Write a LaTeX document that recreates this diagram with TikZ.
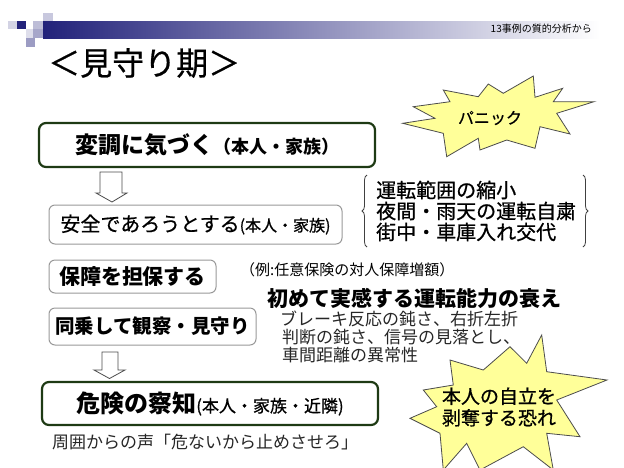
\documentclass[tikz,border=0pt]{standalone}
\usepackage{fontspec}
\setmainfont{Noto Sans CJK JP}
\newfontfamily\medfont{Noto Sans CJK JP}[FakeBold=0.7]
\usetikzlibrary{decorations.pathreplacing}
\definecolor{dgreen}{HTML}{1E3A14}
\definecolor{burstyellow}{HTML}{FFFF99}
\definecolor{navy}{HTML}{22227A}
\newcommand{\fs}[1]{\fontsize{#1}{#1}\selectfont}
\begin{document}
\begin{tikzpicture}[x=1pt,y=-1pt,
  greenbox/.style={draw=dgreen, line width=2.2pt, rounded corners=7pt, fill=white, inner sep=0pt},
  graybox/.style={draw=gray!80, line width=1pt, rounded corners=6pt, fill=white, inner sep=0pt},
  harrow/.style={draw=gray!60!black, fill=white, line width=0.8pt},
  burst/.style={draw=gray!60!black, fill=burstyellow, line width=0.8pt},
  lbl/.style={inner sep=0pt, anchor=west},
  bracestyle/.style={draw=gray!50!black, line width=0.8pt, decorate, decoration={brace, amplitude=5pt}}]
\useasboundingbox (0,0) rectangle (624,467);
% header decoration
\shade[left color=navy, right color=white] (43,21) rectangle (600,38);
\fill[navy!25] (43,13) rectangle (53,21);
\fill[navy!20] (8,21) rectangle (17,29);
\fill[navy] (17,21) rectangle (26,29);
\fill[navy!30] (33,21) rectangle (43,29);
\fill[navy!15] (26,29) rectangle (35,38);
\fill[navy!40] (33,29) rectangle (43,38);
\fill[navy!45] (26,38) rectangle (35,47);
\node[inner sep=0pt, anchor=east] (hdr) at (592,29) {\fs{10}13事例の質的分析から};
\node[lbl] (title) at (48,63) {\medfont\fs{32}＜見守り期＞};
% bursts
\draw[burst] (443.3,90) -- (478.3,96.7) -- (488.3,84) -- (503.3,93.3) -- (533.3,76) -- (535,97.3) -- (562.7,88.3) -- (553.3,101.7) -- (594,101.7) -- (556.7,113.3) -- (570,134) -- (540,126.7) -- (535,148.3) -- (506.7,140) -- (480,150) -- (478.3,138.3) -- (446.7,156.7) -- (443.3,133.3) -- (402.7,123.3) -- (435,118.3) -- (413.3,106.7) -- (450,101.7) -- cycle;
\node[inner sep=0pt] (panic) at (490,118) {\medfont\fs{16}パニック};
\draw[burst] (541.7,335) -- (546.7,371.7) -- (607,380) -- (556.7,400) -- (580,436.7) -- (546.7,433.3) -- (553.3,470) -- (523.3,446.7) -- (480,470) -- (466.7,443.3) -- (443.3,470) -- (440,433.3) -- (410,418.3) -- (436.7,406.7) -- (423.3,390) -- (453.3,385) -- (450,360) -- (483.3,370) -- (510,346.7) -- (526.7,363.3) -- cycle;
\node[inner sep=0pt, align=center] (fear) at (499,407) {\medfont\fs{19}本人の自立を\\[3pt]\medfont\fs{19}剥奪する恐れ};
% boxes
\node[greenbox, minimum width=336pt, minimum height=44pt] (b1) at (207,145) {\bfseries\fs{23}変調に気づく\fs{18}（本人・家族）};
\node[graybox, minimum width=293pt, minimum height=39pt] (b2) at (195.5,224.5) {\medfont\fs{20}安全であろうとする\fs{16}(本人・家族)};
\node[graybox, minimum width=167pt, minimum height=33pt] (b3) at (132.5,276.5) {\bfseries\fs{21}保障を担保する};
\node[graybox, minimum width=207pt, minimum height=37pt] (b4) at (152.5,326.5) {\bfseries\fs{19.5}同乗して観察・見守り};
\node[greenbox, minimum width=336pt, minimum height=43pt] (b5) at (210,403.5) {{\bfseries\fs{24}危険の察知}{\medfont\fs{17}(本人・家族・近隣)}};
% hollow arrows
\draw[harrow] (100,172) -- (122,172) -- (122,193) -- (127,193) -- (112,202) -- (96,193) -- (100,193) -- cycle;
\draw[harrow] (102,352) -- (118,352) -- (118,370) -- (125,370) -- (109.5,378.5) -- (94,370) -- (102,370) -- cycle;
% braces and list
\coordinate (lbt) at (367,175);
\coordinate (lbb) at (367,247);
\coordinate (rbt) at (583,175);
\coordinate (rbb) at (583,247);
\draw[bracestyle] (lbb) -- (lbt);
\draw[bracestyle] (rbt) -- (rbb);
\node[lbl] (l1) at (376,190) {\medfont\fs{20}運転範囲の縮小};
\node[lbl] (l2) at (376,211) {\medfont\fs{20}夜間・雨天の運転自粛};
\node[lbl] (l3) at (376,232) {\medfont\fs{20}街中・車庫入れ交代};
% other text
\node[lbl] (ex) at (240,270) {\fs{15}（例:任意保険の対人保障増額）};
\node[lbl] (first) at (267,298) {\bfseries\fs{21}初めて実感する運転能力の衰え};
\node[lbl, text=black!85] (s1) at (280,319) {\fs{17}ブレーキ反応の鈍さ、右折左折};
\node[lbl, text=black!85] (s2) at (282,337) {\fs{17}判断の鈍さ、信号の見落とし、};
\node[lbl, text=black!85] (s3) at (282,355) {\fs{17}車間距離の異常性};
\node[lbl, text=black!85] (voice) at (52,442) {\fs{17}周囲からの声「危ないから止めさせろ」};
\end{tikzpicture}
\end{document}
